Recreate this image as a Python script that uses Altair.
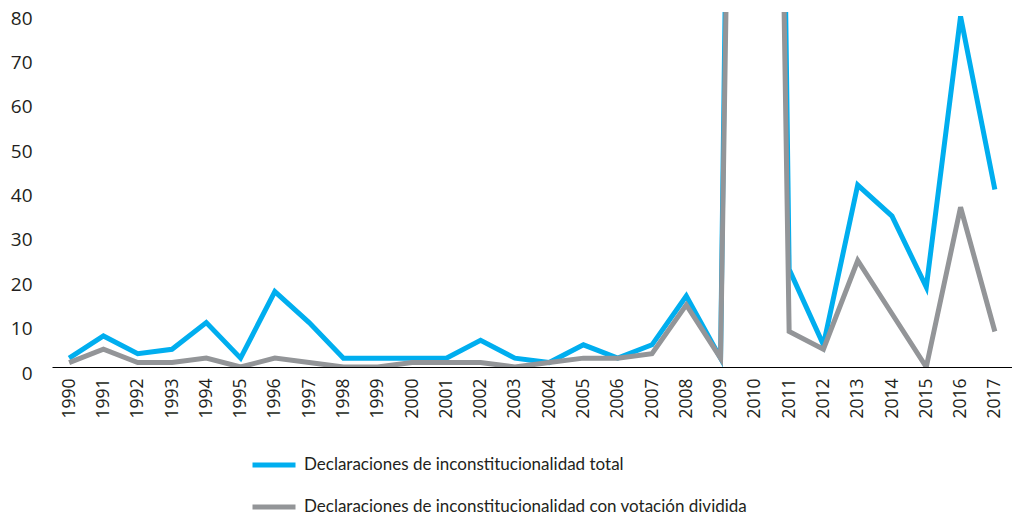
import altair as alt
import pandas as pd

years = [str(y) for y in range(1990, 2018)]
total = [2, 7, 3, 4, 10, 2, 17, 10, 2, 2, 2, 2, 6, 2, 1, 5, 2, 5, 16, 2, 600, 22, 5, 41, 34, 18, 79, 40]
divided = [1, 4, 1, 1, 2, 0, 2, 1, 0, 0, 1, 1, 1, 0, 1, 2, 2, 3, 14, 2, 500, 8, 4, 24, 12, 0, 36, 8]
series_names = [
    "Declaraciones de inconstitucionalidad total",
    "Declaraciones de inconstitucionalidad con votación dividida",
]
colors = ["#00aeef", "#939598"]
y_ticks = [0, 10, 20, 30, 40, 50, 60, 70, 80]

rows = []
for name, vals in zip(series_names, [total, divided]):
    for yr, v in zip(years, vals):
        rows.append({"year": yr, "value": v, "series": name})
df = pd.DataFrame(rows)

TXT = "#231f20"

chart = (
    alt.Chart(df)
    .mark_line(strokeWidth=5, clip=True, strokeJoin="miter")
    .encode(
        x=alt.X(
            "year:O",
            sort=years,
            scale=alt.Scale(type="point", padding=0.5),
            axis=alt.Axis(
                title=None,
                labelAngle=-90,
                labelFont="Open Sans",
                labelFontSize=17.5,
                labelColor=TXT,
                labelPadding=11,
                ticks=False,
                domainColor="#000000",
                domainWidth=1,
                grid=False,
            ),
        ),
        y=alt.Y(
            "value:Q",
            scale=alt.Scale(domain=[0, 80], nice=False),
            axis=alt.Axis(
                title=None,
                values=y_ticks,
                labelFont="Open Sans",
                labelFontSize=19,
                labelColor=TXT,
                labelPadding=20,
                labelOffset=6,
                ticks=False,
                domain=False,
                grid=False,
            ),
        ),
        color=alt.Color(
            "series:N",
            sort=series_names,
            scale=alt.Scale(domain=series_names, range=colors),
            legend=alt.Legend(
                title=None,
                orient="none",
                legendX=198,
                legendY=429,
                direction="vertical",
                symbolType="stroke",
                symbolSize=1849,
                symbolStrokeWidth=5,
                labelFont="Lato",
                labelFontSize=17,
                labelColor=TXT,
                labelOffset=6,
                rowPadding=8,
                labelLimit=600,
            ),
        ),
        order=alt.Order("series:N"),
    )
    .properties(
        width=960,
        height=355,
        autosize=alt.AutoSizeParams(type="none"),
        padding={"left": 44, "top": 4, "right": 0, "bottom": 150},
    )
    .configure_view(stroke=None)
)

chart.save("out.html", embed_options={"renderer": "svg", "actions": False})
